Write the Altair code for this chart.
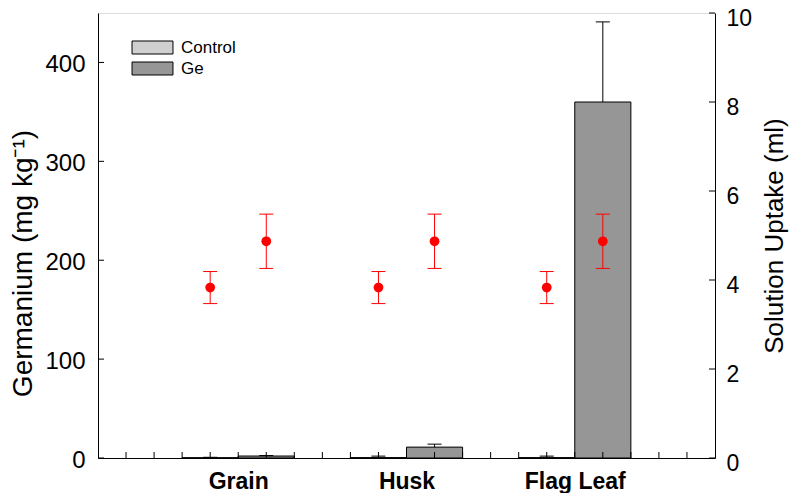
import altair as alt
import pandas as pd

# ---- data ----
categories = ["Grain", "Husk", "Flag Leaf"]
treatments = ["Control", "Ge"]
ge_control = [0.3, 0.4, 0.4]
ge_control_err = [0.4, 1.5, 1.5]
ge_treated = [2.0, 11.0, 360.0]
ge_treated_err = [0.5, 3.0, 81.0]
uptake_control = [3.83, 3.83, 3.83]
uptake_control_err = [0.36, 0.36, 0.36]
uptake_ge = [4.87, 4.87, 4.87]
uptake_ge_err = [0.61, 0.61, 0.61]
left_ticks = [0, 100, 200, 300, 400]
right_ticks = [0, 2, 4, 6, 8, 10]
x_minor_ticks = list(range(1, 22))

W, H = 617, 445
FONT = "Liberation Sans"

rows = []
for i, cat in enumerate(categories):
    for j, tr in enumerate(treatments):
        ge = [ge_control, ge_treated][j][i]
        ge_e = [ge_control_err, ge_treated_err][j][i]
        up = [uptake_control, uptake_ge][j][i]
        up_e = [uptake_control_err, uptake_ge_err][j][i]
        rows.append(dict(category=cat, treatment=tr, slot=4 + 6 * i + 2 * j,
                         ge=ge, ge_err=ge_e, up=up, up_err=up_e))
df = pd.DataFrame(rows)

label_pos = [5 + 6 * i for i in range(len(categories))]
label_expr = " : ".join(f"datum.value == {p} ? '{c}'" for p, c in zip(label_pos, categories)) + " : ''"

x_scale = alt.Scale(domain=[0, 22], nice=False, zero=False)
x_axis = alt.Axis(values=label_pos, labelExpr=label_expr, tickSize=0, grid=False,
                  labelFontSize=23, labelFontWeight="bold", labelPadding=30,
                  labelBaseline="alphabetic",
                  labelColor="black", domainColor="black", title=None, labelFont=FONT)


def X(field, **kw):
    return alt.X(field, type="quantitative", scale=x_scale, axis=x_axis, **kw)


yl_scale = alt.Scale(domain=[0, 450], nice=False)
yl_axis = alt.Axis(values=left_ticks, tickSize=0, grid=False, labelFontSize=24,
                   labelPadding=13, labelOffset=2, labelColor="black", domainColor="black",
                   title="Germanium (mg kg\u207b\u00b9)", titleFontSize=28,
                   titleFontWeight="normal", titleColor="black", titlePadding=7,
                   titleY=250,
                   labelFont=FONT, titleFont=FONT)


def YL(field):
    return alt.Y(field, type="quantitative", scale=yl_scale, axis=yl_axis)


yr_scale = alt.Scale(domain=[0, 10], nice=False)
yr_axis = alt.Axis(orient="right", values=right_ticks, tickSize=0, grid=False,
                   labelFontSize=23, labelPadding=11, labelOffset=5, labelColor="black",
                   domainColor="black", title="Solution Uptake (ml)",
                   titleFontSize=26, titleFontWeight="normal", titleColor="black",
                   titleAngle=270, titleBaseline="top",
                   titlePadding=10, labelFont=FONT, titleFont=FONT)


def YR(field):
    return alt.Y(field, type="quantitative", scale=yr_scale, axis=yr_axis)


base = alt.Chart(df).transform_calculate(
    xs="datum.slot - 1", xe="datum.slot + 1", top="datum.ge + datum.ge_err",
    cl="datum.slot - 0.25", cr="datum.slot + 0.25",
    ulo="datum.up - datum.up_err", uhi="datum.up + datum.up_err")

legend = alt.Legend(orient="none", legendX=32, legendY=26, title=None,
                    symbolType="M-3.15,-1H3.15V1H-3.15Z", symbolSize=169,
                    symbolStrokeColor="black", symbolStrokeWidth=1,
                    symbolOffset=14, labelOffset=20, labelFontSize=17,
                    labelColor="black", labelFont=FONT, rowPadding=3, padding=0)

bars = base.mark_rect(stroke="black", strokeWidth=1).encode(
    x=X("xs"), x2="xe:Q", y=YL("ge"), y2=alt.datum(0),
    color=alt.Color("treatment:N", scale=alt.Scale(domain=treatments,
                                                 range=["#d0d0d0", "#969696"]),
                    legend=legend))
err = base.mark_rule(color="black", strokeWidth=1).encode(
    x=X("slot"), y=YL("ge"), y2="top:Q")
cap = base.mark_rule(color="black", strokeWidth=1).encode(
    x=X("cl"), x2="cr:Q", y=YL("top"))

lt_df = pd.DataFrame({"t": left_ticks})
left_tk = alt.Chart(lt_df).mark_rule(color="black").encode(
    x=alt.value(0), x2=alt.value(6), y=YL("t"))
xt_df = pd.DataFrame({"t": x_minor_ticks})
x_tk = alt.Chart(xt_df).mark_rule(color="black").encode(
    x=X("t"), y=alt.value(H), y2=alt.value(H - 6))

left_group = alt.layer(bars, err, cap, left_tk, x_tk)

red = "#ff0000"
r_err = base.mark_rule(color=red, strokeWidth=1).encode(
    x=X("slot"), y=YR("ulo"), y2="uhi:Q")
r_cap_hi = base.mark_rule(color=red, strokeWidth=1).encode(
    x=X("cl"), x2="cr:Q", y=YR("uhi"))
r_cap_lo = base.mark_rule(color=red, strokeWidth=1).encode(
    x=X("cl"), x2="cr:Q", y=YR("ulo"))
r_pts = base.mark_circle(color=red, size=95, opacity=1).encode(
    x=X("slot"), y=YR("up"))
rt_df = pd.DataFrame({"t": right_ticks})
right_tk = alt.Chart(rt_df).mark_rule(color="black").encode(
    x=alt.value(W - 6), x2=alt.value(W), y=YR("t"))

right_group = alt.layer(r_err, r_cap_hi, r_cap_lo, r_pts, right_tk)

chart = alt.layer(left_group, right_group).resolve_scale(y="independent").properties(
    width=W, height=H,
    autosize=alt.AutoSizeParams(type="none"),
    padding={"left": 90, "top": 5, "right": 77, "bottom": 35},
).configure_view(stroke="black", strokeWidth=1).configure(font=FONT)

chart.save("out.html", embed_options={"renderer": "svg", "actions": False})
